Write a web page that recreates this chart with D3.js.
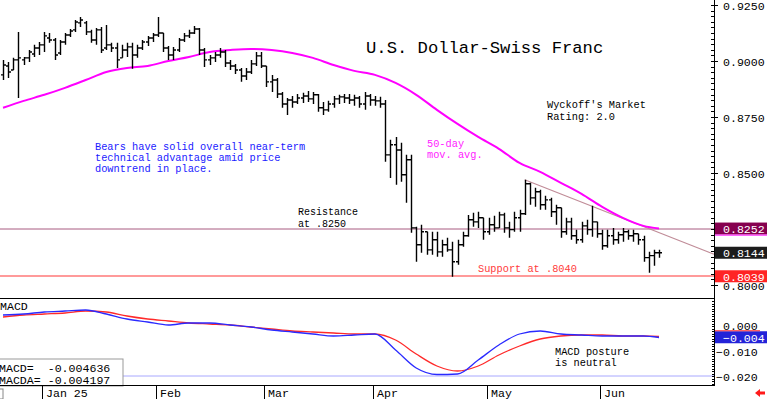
<!DOCTYPE html>
<html>
<head>
<meta charset="utf-8">
<script src="https://cdn.jsdelivr.net/npm/d3@7"></script>
<style>
  html, body { margin: 0; padding: 0; background: #fff; }
  svg { display: block; font-family: "Liberation Mono", "DejaVu Sans Mono", monospace; }
  text { white-space: pre; }
</style>
</head>
<body>
<div id="chart"></div>
<script>
// daily OHLC, USD/CHF, late Dec 2024 - mid Jun 2025
const opens = [
  .8938, .8978, .8960, .9005, .9005, .9014, .9031, .9058, .9072, .9103,
  .9094, .9036, .9085, .9116, .9139, .9170, .9170, .9130, .9094, .9139,
  .9058, .9072, .9058, .9014, .9049, .9063, .9027, .9058, .9085, .9103,
  .9116, .9125, .9058, .9027, .9049, .9094, .9112, .9125, .9143, .9049,
  .9005, .9014, .9027, .9040, .8991, .8978, .8960, .8933, .8951, .8987,
  .9023, .8978, .8907, .8915, .8853, .8808, .8826, .8817, .8835, .8844,
  .8831, .8849, .8791, .8782, .8808, .8831, .8840, .8835, .8826, .8835,
  .8808, .8844, .8826, .8822, .8808, .8581, .8626, .8603, .8492, .8559,
  .8255, .8180, .8238, .8157, .8202, .8148, .8180, .8157, .8104, .8180,
  .8220, .8291, .8282, .8300, .8238, .8269, .8255, .8313, .8255, .8247,
  .8300, .8318, .8452, .8389, .8416, .8358, .8380, .8327, .8345, .8238,
  .8282, .8220, .8202, .8264, .8247, .8282, .8229, .8175, .8220, .8202,
  .8224, .8238, .8220, .8229, .8202, .8122, .8131, .8144
];
const highs = [
  .9005, .8996, .9014, .9130, .9018, .9049, .9072, .9085, .9130, .9125,
  .9103, .9094, .9125, .9143, .9183, .9196, .9179, .9139, .9147, .9152,
  .9161, .9081, .9081, .9072, .9081, .9081, .9072, .9094, .9112, .9125,
  .9196, .9125, .9067, .9063, .9103, .9125, .9139, .9156, .9147, .9058,
  .9027, .9040, .9058, .9049, .9005, .8987, .8969, .8969, .9005, .9040,
  .9040, .8978, .8938, .8924, .8862, .8835, .8844, .8853, .8858, .8866,
  .8862, .8853, .8817, .8822, .8844, .8849, .8853, .8853, .8849, .8844,
  .8862, .8853, .8844, .8840, .8826, .8648, .8661, .8635, .8581, .8581,
  .8260, .8269, .8238, .8238, .8238, .8202, .8211, .8193, .8202, .8238,
  .8313, .8322, .8327, .8300, .8300, .8309, .8327, .8322, .8282, .8327,
  .8336, .8470, .8456, .8434, .8425, .8398, .8389, .8358, .8345, .8300,
  .8300, .8247, .8282, .8291, .8354, .8282, .8247, .8247, .8255, .8238,
  .8255, .8247, .8247, .8229, .8220, .8148, .8157, .8157
];
const lows = [
  .8915, .8924, .8960, .8835, .8982, .8996, .9018, .9027, .9040, .9081,
  .9005, .9027, .9072, .9107, .9130, .9152, .9116, .9081, .9072, .9036,
  .9049, .9040, .8969, .9014, .9018, .8965, .9014, .9049, .9067, .9085,
  .9107, .9040, .9005, .9005, .9040, .9085, .9103, .9121, .9027, .8973,
  .8982, .8996, .9014, .8973, .8960, .8942, .8907, .8915, .8942, .8978,
  .8969, .8884, .8862, .8835, .8791, .8759, .8791, .8808, .8813, .8817,
  .8808, .8773, .8759, .8773, .8791, .8808, .8813, .8808, .8800, .8791,
  .8782, .8800, .8800, .8791, .8550, .8478, .8447, .8461, .8367, .8233,
  .8104, .8144, .8135, .8135, .8126, .8126, .8148, .8037, .8090, .8171,
  .8215, .8260, .8255, .8202, .8224, .8238, .8255, .8233, .8211, .8238,
  .8238, .8313, .8358, .8349, .8336, .8336, .8304, .8269, .8211, .8224,
  .8202, .8184, .8189, .8224, .8215, .8211, .8157, .8166, .8180, .8184,
  .8193, .8202, .8193, .8180, .8104, .8055, .8086, .8122
];
const closes = [
  .8982, .8951, .9005, .9014, .9014, .9040, .9058, .9072, .9112, .9094,
  .9027, .9085, .9116, .9134, .9174, .9183, .9130, .9094, .9139, .9049,
  .9072, .9058, .9005, .9049, .9063, .9027, .9058, .9085, .9103, .9116,
  .9125, .9058, .9027, .9049, .9094, .9112, .9125, .9143, .9049, .9005,
  .9014, .9027, .9040, .8991, .8978, .8960, .8933, .8951, .8987, .9023,
  .8978, .8907, .8915, .8853, .8808, .8826, .8817, .8835, .8844, .8831,
  .8849, .8791, .8782, .8808, .8831, .8840, .8835, .8826, .8835, .8808,
  .8844, .8826, .8822, .8808, .8581, .8626, .8603, .8492, .8559, .8255,
  .8180, .8238, .8157, .8202, .8148, .8180, .8157, .8104, .8180, .8220,
  .8291, .8282, .8300, .8238, .8269, .8255, .8313, .8255, .8247, .8300,
  .8318, .8452, .8389, .8416, .8358, .8380, .8327, .8345, .8238, .8282,
  .8220, .8202, .8264, .8247, .8282, .8229, .8175, .8220, .8202, .8224,
  .8238, .8220, .8229, .8202, .8122, .8131, .8144, .8144
];

// indicator lines at these bar indexes
const lineIdx = [0, 4, 8, 12, 16, 20, 24, 28, 32, 36, 40, 44, 48, 52, 56, 60,
  64, 68, 72, 76, 80, 84, 88, 92, 96, 100, 104, 108, 112, 116, 120, 124, 127];
const ma50 = [.8791, .8822, .8849, .8880, .8915, .8951, .8969, .8978, .9000, .9018,
  .9040, .9049, .9054, .9049, .9036, .9014, .8982, .8956, .8938, .8902, .8849,
  .8782, .8719, .8661, .8608, .8545, .8505, .8456, .8407, .8349, .8300, .8264, .8252];
const macd = [.0044, .0048, .0056, .0060, .0064, .0048, .0028, .0016, .0004, .0012,
  .0012, .0004, -.0004, -.0016, -.0024, -.0032, -.0040, -.0036, -.0032, -.0096,
  -.0168, -.0194, -.0192, -.0136, -.0076, -.0032, -.0020, -.0032, -.0036, -.0040,
  -.0040, -.0040, -.0046];
const macdAvg = [.0036, .0044, .0048, .0052, .0060, .0056, .0040, .0028, .0020, .0012,
  .0008, .0004, -.0004, -.0012, -.0020, -.0024, -.0028, -.0032, -.0032, -.0056,
  -.0112, -.0160, -.0180, -.0160, -.0116, -.0080, -.0052, -.0040, -.0036, -.0036,
  -.0040, -.0040, -.0042];

const monthIdx = [8, 30, 51, 72, 94, 116];
const monthLabels = ["Jan 25", "Feb", "Mar", "Apr", "May", "Jun"];
const priceTicks = [0.9250, 0.9000, 0.8750, 0.8500, 0.8000];
const macdTicks = [0.000, -0.010, -0.020];
const resistance = 0.8250;
const support = 0.8040;
const trendIdx = [101, 114];
const trendVals = [0.8470, 0.8352];
const lastMa = 0.8252, lastClose = 0.8144, supportLabel = 0.8039, lastMacd = -0.0045;

const W = 768, H = 399, plotR = 714;

const svg = d3.select("#chart").append("svg")
  .attr("width", W).attr("height", H);

const x = d3.scaleLinear().domain([0, closes.length - 1]).range([3, 659]);
const y = d3.scaleLinear().domain([0.925, 0.800]).range([5, 285]);
const ym = d3.scaleLinear().domain([0, -0.02]).range([326, 376]);

// price panel
const price = svg.append("g");

price.append("line")
  .attr("x1", 0).attr("x2", plotR)
  .attr("y1", y(resistance)).attr("y2", y(resistance))
  .attr("stroke", "#a85a80").attr("stroke-width", 1);

price.append("line")
  .attr("x1", 0).attr("x2", plotR)
  .attr("y1", y(support)).attr("y2", y(support))
  .attr("stroke", "#ff9a9a").attr("stroke-width", 2);

// trendline from the May high, extended to the axis
const slope = (trendVals[1] - trendVals[0]) / (trendIdx[1] - trendIdx[0]);
const endIdx = x.invert(plotR);
price.append("line")
  .attr("x1", x(trendIdx[0])).attr("y1", y(trendVals[0]))
  .attr("x2", plotR).attr("y2", y(trendVals[0] + slope * (endIdx - trendIdx[0])))
  .attr("stroke", "#c08c98").attr("stroke-width", 1.2);

price.append("path")
  .datum(lineIdx.map((d, i) => [d, ma50[i]]))
  .attr("fill", "none")
  .attr("stroke", "#ff00ff")
  .attr("stroke-width", 2)
  .attr("d", d3.line().x(d => x(d[0])).y(d => y(d[1])).curve(d3.curveMonotoneX));

price.selectAll(".bar")
  .data(d3.range(closes.length))
  .enter()
  .append("path")
  .attr("class", "bar")
  .attr("fill", "none")
  .attr("stroke", "#000")
  .attr("stroke-width", 1.4)
  .attr("d", i => {
    const cx = Math.round(x(i)) + 0.5;
    return `M${cx},${y(highs[i])}V${y(lows[i])}` +
      `M${cx - 2.5},${y(opens[i])}H${cx}` +
      `M${cx},${y(closes[i])}H${cx + 2.5}`;
  });

// texts in the price panel
const txt = (g, str, tx, ty, size, color) => g.append("text")
  .attr("x", tx).attr("y", ty)
  .attr("font-size", size)
  .attr("fill", color)
  .text(str);

txt(svg, "U.S. Dollar-Swiss Franc", 366, 53, 17.2, "#000");
txt(svg, "Wyckoff's Market", 547, 108, 10.3, "#000");
txt(svg, "Rating: 2.0", 547, 120, 10.3, "#000");
txt(svg, "Bears have solid overall near-term", 95, 150, 10.3, "#1a1aff");
txt(svg, "technical advantage amid price", 95, 161, 10.3, "#1a1aff");
txt(svg, "downtrend in place.", 95, 172, 10.3, "#1a1aff");
txt(svg, "50-day", 427, 147, 10.3, "#ff22ff");
txt(svg, "mov. avg.", 427, 158, 10.3, "#ff22ff");
txt(svg, "Resistance", 298, 215, 10, "#000");
txt(svg, "at .8250", 298, 226.5, 10, "#000");
txt(svg, "Support at .8040", 478, 272, 10.3, "#ff3a3a");

// MACD panel
const mp = svg.append("g");

mp.append("line")
  .attr("x1", 0).attr("x2", plotR)
  .attr("y1", ym(-0.02)).attr("y2", ym(-0.02))
  .attr("stroke", "#a8a8ff").attr("stroke-width", 1);

const mline = d3.line().x(d => x(d[0])).y(d => ym(d[1])).curve(d3.curveMonotoneX);
mp.append("path")
  .datum(lineIdx.map((d, i) => [d, macdAvg[i]]))
  .attr("fill", "none").attr("stroke", "#ff2a2a").attr("stroke-width", 1.3)
  .attr("d", mline);
mp.append("path")
  .datum(lineIdx.map((d, i) => [d, macd[i]]))
  .attr("fill", "none").attr("stroke", "#2a2aff").attr("stroke-width", 1.3)
  .attr("d", mline);

txt(svg, "MACD", 0, 310, 11.6, "#000");
txt(svg, "MACD posture", 555, 355, 10.3, "#000");
txt(svg, "is neutral", 555, 366, 10.3, "#000");

svg.append("rect")
  .attr("x", -1).attr("y", 359).attr("width", 124).attr("height", 27)
  .attr("fill", "#fff").attr("stroke", "#999").attr("stroke-width", 1);
txt(svg, "MACD=  -0.004636", -1, 372, 11.6, "#000");
txt(svg, "MACDA= -0.004197", -1, 384, 11.6, "#000");

// frame lines
svg.append("line").attr("x1", 0).attr("x2", plotR).attr("y1", 298.5).attr("y2", 298.5)
  .attr("stroke", "#000").attr("stroke-width", 1);
svg.append("line").attr("x1", 0).attr("x2", plotR).attr("y1", 385.5).attr("y2", 385.5)
  .attr("stroke", "#000").attr("stroke-width", 1);
svg.append("line").attr("x1", plotR + 0.5).attr("x2", plotR + 0.5).attr("y1", 0).attr("y2", 386)
  .attr("stroke", "#000").attr("stroke-width", 1);

// right price axis
const pAxis = svg.append("g");
pAxis.selectAll(".minor")
  .data(d3.range(0.8000, 0.9276, 0.0025))
  .enter().append("line")
  .attr("x1", plotR - 3).attr("x2", plotR)
  .attr("y1", d => Math.round(y(d)) + 0.5).attr("y2", d => Math.round(y(d)) + 0.5)
  .attr("stroke", "#000");
pAxis.selectAll(".major")
  .data(priceTicks)
  .enter().append("line")
  .attr("x1", plotR).attr("x2", plotR + 4)
  .attr("y1", d => Math.round(y(d)) + 0.5).attr("y2", d => Math.round(y(d)) + 0.5)
  .attr("stroke", "#000");
pAxis.selectAll(".lbl")
  .data(priceTicks)
  .enter().append("text")
  .attr("x", 723).attr("y", d => y(d) + 4.5)
  .attr("font-size", 11.6).attr("fill", "#000")
  .text(d3.format(".4f"));

// MACD axis
const mAxis = svg.append("g");
mAxis.selectAll(".minor")
  .data(d3.range(-0.024, 0.011, 0.001))
  .enter().append("line")
  .attr("x1", plotR - 2).attr("x2", plotR)
  .attr("y1", d => Math.round(ym(d)) + 0.5).attr("y2", d => Math.round(ym(d)) + 0.5)
  .attr("stroke", "#000")
  .filter(d => ym(d) < 300 || ym(d) > 385).remove();
mAxis.selectAll(".lbl")
  .data(macdTicks)
  .enter().append("text")
  .attr("x", 716).attr("y", d => ym(d) + (d === 0 ? 3.5 : 4.5))
  .attr("font-size", 11.6).attr("fill", "#000")
  .text(d3.format(" .3f"));

// value markers on the right
const marker = (v, sc, fill, label) => {
  const cy = sc(v);
  svg.append("rect")
    .attr("x", plotR + 1).attr("y", cy - 6).attr("width", W - plotR - 2).attr("height", 12)
    .attr("fill", fill);
  svg.append("text")
    .attr("x", label.startsWith("-") ? 716 : 723).attr("y", cy + 4.5)
    .attr("font-size", 11.6).attr("fill", "#fff")
    .text(label);
};
marker(lastMa, y, "#86004f", d3.format(".4f")(lastMa));
svg.append("line").attr("x1", plotR + 1).attr("x2", W - 1)
  .attr("y1", y(lastMa) + 6.5).attr("y2", y(lastMa) + 6.5)
  .attr("stroke", "#ff33ff").attr("stroke-width", 1.2);
marker(lastClose, y, "#1c1c1c", d3.format(".4f")(lastClose));
marker(supportLabel, y, "#ff2424", d3.format(".4f")(supportLabel));
marker(lastMacd, ym, "#2323d8", d3.format(".3f")(lastMacd));
svg.append("line").attr("x1", plotR + 1).attr("x2", W - 8)
  .attr("y1", ym(lastMacd) - 6.5).attr("y2", ym(lastMacd) - 6.5)
  .attr("stroke", "#ff3030").attr("stroke-width", 1.2);

// month axis
const xa = svg.append("g");
xa.selectAll(".div")
  .data(monthIdx)
  .enter().append("line")
  .attr("x1", d => Math.round(x(d)) - 1.5).attr("x2", d => Math.round(x(d)) - 1.5)
  .attr("y1", 386).attr("y2", H)
  .attr("stroke", "#000");
xa.selectAll(".lbl")
  .data(monthIdx)
  .enter().append("text")
  .attr("x", d => Math.round(x(d)) + 2).attr("y", 397)
  .attr("font-size", 11.6).attr("fill", "#000")
  .text((d, i) => monthLabels[i]);
xa.append("rect").attr("x", -1).attr("y", 389).attr("width", 4).attr("height", 10)
  .attr("fill", "none").attr("stroke", "#888");

// small red arrow bottom right
svg.append("path")
  .attr("d", "M755,393 L760,389 L760,391.5 L765,391.5 L765,394.5 L760,394.5 L760,397 Z")
  .attr("fill", "#ff1a1a");
</script>
</body>
</html>
